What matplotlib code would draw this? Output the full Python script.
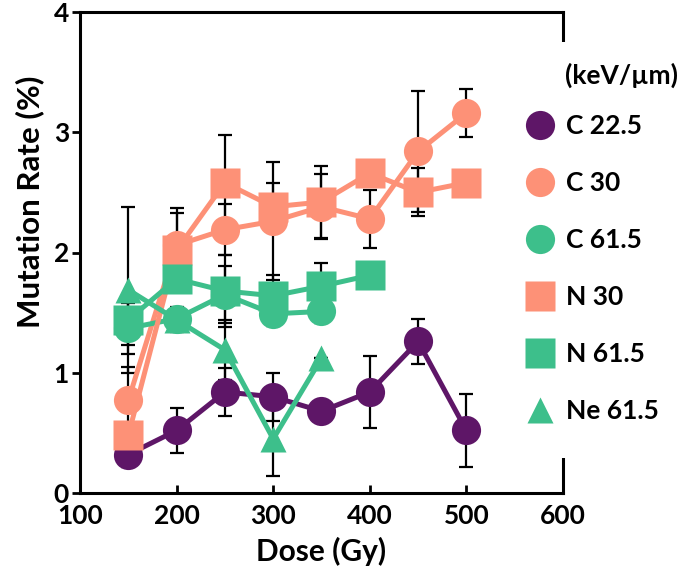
import matplotlib.pyplot as plt
from matplotlib.lines import Line2D
from matplotlib.patches import Rectangle

plt.rcParams['font.family'] = ['Lato', 'DejaVu Sans']
plt.rcParams['font.weight'] = 'bold'
plt.rcParams['axes.labelweight'] = 'bold'

purple = '#5e1667'
salmon = '#fd9177'
green = '#3dbf8b'

# dose (Gy)
dose_c225 = [150, 200, 250, 300, 350, 400, 450, 500]
dose_c30 = [150, 200, 250, 300, 350, 400, 450, 500]
dose_n30 = [150, 200, 250, 300, 350, 400, 450, 500]
dose_c615 = [150, 200, 250, 300, 350]
dose_n615 = [150, 200, 250, 300, 350, 400]
dose_ne615 = [150, 200, 250, 300, 350]

# mutation rate (%) and error
c225 = [0.32, 0.52, 0.84, 0.80, 0.68, 0.84, 1.26, 0.52]
c225_err = [0.10, 0.19, 0.20, 0.20, 0.0, 0.30, 0.19, 0.30]
c30 = [0.77, 2.06, 2.19, 2.26, 2.38, 2.28, 2.84, 3.16]
c30_err = [0.28, 0.31, 0.21, 0.49, 0.27, 0.24, 0.50, 0.20]
n30 = [0.48, 2.02, 2.58, 2.38, 2.42, 2.66, 2.50, 2.58]
n30_err = [0.10, 0.31, 0.40, 0.20, 0.30, 0.10, 0.20, 0.10]
c615 = [1.37, 1.45, 1.65, 1.49, 1.51]
c615_err = [0.21, 0.10, 0.24, 0.10, 0.10]
n615 = [1.44, 1.78, 1.68, 1.64, 1.72, 1.81]
n615_err = [0.21, 0.10, 0.30, 0.17, 0.19, 0.05]
ne615 = [1.69, 1.44, 1.19, 0.45, 1.12]
ne615_err = [0.69, 0.10, 0.25, 0.31, 0.0]

series = [
    ('C 22.5', dose_c225, c225, c225_err, purple, 'o', 21),
    ('C 30', dose_c30, c30, c30_err, salmon, 'o', 21),
    ('C 61.5', dose_c615, c615, c615_err, green, 'o', 21),
    ('N 30', dose_n30, n30, n30_err, salmon, 's', 21),
    ('N 61.5', dose_n615, n615, n615_err, green, 's', 21),
    ('Ne 61.5', dose_ne615, ne615, ne615_err, green, '^', 19),
]

W, H = 698, 574
fig = plt.figure(figsize=(W / 100, H / 100), dpi=100)
ax = fig.add_axes([80 / W, 1 - 493 / H, 483 / W, 481 / H])

handles = []
for name, x, y, err, col, mk, ms in series:
    ax.errorbar(x, y, yerr=err, fmt='none', ecolor='black', elinewidth=1.6,
                capsize=5, capthick=1.6, zorder=2)
    ax.plot(x, y, color=col, lw=3.6, zorder=3, solid_capstyle='round')
    ax.plot(x, y, ls='none', marker=mk, ms=ms, color=col, mec='none', zorder=4)
    handles.append(Line2D([], [], ls='none', marker=mk, ms=ms, color=col, mec='none'))

ax.set_xlim(100, 600)
ax.set_ylim(0, 4)
ax.set_xticks([100, 200, 300, 400, 500, 600])
ax.set_yticks([0, 1, 2, 3, 4])
ax.tick_params(axis='x', direction='in', length=6, width=2, labelsize=19, pad=8)
ax.tick_params(axis='y', direction='out', length=6, width=2, labelsize=19, pad=2)
for s in ax.spines.values():
    s.set_linewidth(2.2)

ax.set_xlabel('Dose (Gy)', fontsize=21.5, fontweight='bold', labelpad=6)
ax.set_ylabel('Mutation Rate (%)', fontsize=22.5, fontweight='bold')
ax.yaxis.set_label_coords(-0.074, 0.605)

# white block hiding the right spine behind the legend
fig.patches.append(Rectangle((550 / W, 1 - 458 / H), 30 / W, 416 / H,
                             transform=fig.transFigure, facecolor='white',
                             edgecolor='none', zorder=5))

fig.text(565 / W, 1 - 75 / H, '(keV/\u00b5m)', fontsize=19, fontweight='bold',
         ha='left', va='center', zorder=11)
leg = fig.legend(handles, [s[0] for s in series],
                 loc='upper left', bbox_to_anchor=(519 / W, 1 - 114 / H),
                 frameon=False, fontsize=19, labelspacing=1.25,
                 handletextpad=0.2, borderaxespad=0, borderpad=0,
                 handlelength=1.6)
leg.set_zorder(10)

fig.savefig('out.png', dpi=100)
